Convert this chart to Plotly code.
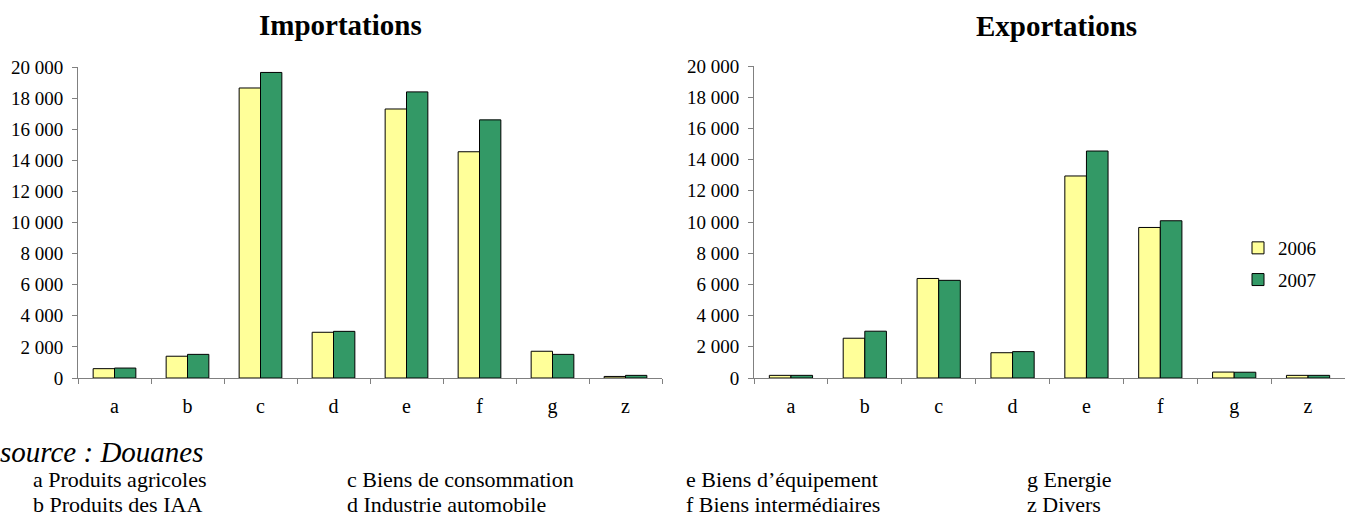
import plotly.graph_objects as go

W, H = 1345, 518

categories = ["a", "b", "c", "d", "e", "f", "g", "z"]
years = ["2006", "2007"]
imp_2006 = [600, 1400, 18650, 2940, 17300, 14550, 1720, 100]
imp_2007 = [640, 1520, 19650, 3000, 18400, 16600, 1520, 170]
exp_2006 = [170, 2550, 6380, 1620, 12950, 9650, 380, 170]
exp_2007 = [170, 3000, 6260, 1690, 14550, 10080, 370, 170]
titles = ["Importations", "Exportations"]
source_text = "source : Douanes"
key_col1 = ["a Produits agricoles", "b Produits des IAA"]
key_col2 = ["c Biens de consommation", "d Industrie automobile"]
key_col3 = ["e Biens d\u2019équipement", "f Biens intermédiaires"]
key_col4 = ["g Energie", "z Divers"]

colors = ["#FFFF99", "#339966"]
FONT = "Liberation Serif"


def px(x):
    return x / W


def py(y):
    return 1 - y / H


fig = go.Figure()
series = [(imp_2006, imp_2007, "x", "y"), (exp_2006, exp_2007, "x2", "y2")]
for i, (v06, v07, xa, ya) in enumerate(series):
    for j, vals in enumerate([v06, v07]):
        fig.add_trace(go.Bar(
            x=categories, y=vals, name=years[j], xaxis=xa, yaxis=ya,
            marker=dict(color=colors[j], line=dict(color="#000000", width=1)),
            showlegend=(i == 1), legendgroup=years[j],
        ))

axis_common_x = dict(
    type="category", showline=True, linecolor="#808080", linewidth=1,
    ticks="outside", ticklen=5, tickcolor="#808080", tickson="boundaries",
    showgrid=False, zeroline=False, tickfont=dict(family=FONT, size=20, color="#000"),
    ticklabelstandoff=10, fixedrange=True, automargin=False,
)
axis_common_y = dict(
    range=[0, 20000], dtick=2000, tickformat=",d", showline=True,
    linecolor="#808080", linewidth=1, ticks="outside", ticklen=5,
    tickcolor="#808080", showgrid=False, zeroline=False,
    tickfont=dict(family=FONT, size=19, color="#000"), ticklabelstandoff=5,
    fixedrange=True, automargin=False,
)

fig.update_layout(
    width=W, height=H, margin=dict(l=0, r=0, t=0, b=0, pad=0),
    paper_bgcolor="white", plot_bgcolor="white",
    separators=", ", barmode="group", bargap=0.415, bargroupgap=0,
    font=dict(family=FONT, color="#000"),
    xaxis=dict(domain=[px(78), px(662)], anchor="y", **axis_common_x),
    yaxis=dict(domain=[py(378), py(67)], anchor="x", **axis_common_y),
    xaxis2=dict(domain=[px(754), 1.0], anchor="y2", **axis_common_x),
    yaxis2=dict(domain=[py(378), py(66)], anchor="x2", **axis_common_y),
    legend=dict(
        x=px(1238), y=py(229), xanchor="left", yanchor="top",
        font=dict(family=FONT, size=19, color="#000"),
        tracegroupgap=4, bgcolor="rgba(0,0,0,0)",
    ),
)

annotations = [
    dict(text="<b>" + titles[0] + "</b>", x=px(340), y=py(25)),
    dict(text="<b>" + titles[1] + "</b>", x=px(1056), y=py(26)),
]
for a in annotations:
    a.update(xref="paper", yref="paper", showarrow=False, xanchor="center",
             yanchor="middle", font=dict(family=FONT, size=29, color="#000"))

annotations.append(dict(
    text="<i>" + source_text + "</i>", x=px(-2), y=py(452), xref="paper",
    yref="paper", showarrow=False, xanchor="left", yanchor="middle",
    font=dict(family=FONT, size=29, color="#000")))

col_x = [31, 345, 684, 1025]
row_y = [479, 504]
for cx, col in zip(col_x, [key_col1, key_col2, key_col3, key_col4]):
    for ry, txt in zip(row_y, col):
        annotations.append(dict(
            text=txt, x=px(cx), y=py(ry), xref="paper", yref="paper",
            showarrow=False, xanchor="left", yanchor="middle",
            font=dict(family=FONT, size=22, color="#000")))

fig.update_layout(annotations=annotations)
fig.write_html(
    "out.html",
    config={"displayModeBar": False},
    post_script="document.body.style.margin='0';document.body.style.overflow='hidden';",
)
